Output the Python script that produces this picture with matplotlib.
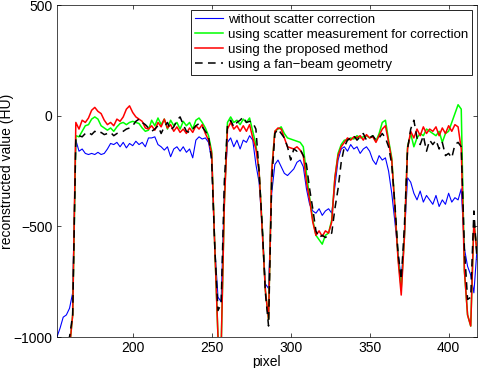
import numpy as np
import matplotlib
matplotlib.use("Agg")
import matplotlib.pyplot as plt

plt.rcParams['font.family'] = ['Liberation Sans', 'DejaVu Sans']
plt.rcParams['font.size'] = 10

# detector pixel positions (every 2nd pixel)
pixel = np.arange(152, 419, 2)

# reconstructed values in HU
no_corr = [
    -1000, -960, -910, -900, -870, -800, -110, -160, -150, -170,
    -175, -170, -175, -165, -175, -170, -150, -125, -130, -120,
    -140, -120, -145, -125, -135, -115, -130, -120, -140, -100,
    -100, -95, -130, -140, -155, -140, -185, -150, -140, -160,
    -140, -165, -150, -190, -110, -95, -105, -100, -120, -200,
    -600, -820, -840, -350, -120, -100, -140, -110, -150, -110,
    -120, -90, -110, -220, -300, -500, -760, -780, -350, -220,
    -200, -230, -260, -270, -255, -240, -210, -200, -230, -330,
    -400, -430, -440, -420, -450, -430, -420, -440, -320, -200,
    -150, -140, -160, -130, -150, -140, -170, -150, -140, -160,
    -200, -220, -180, -200, -190, -250, -350, -480, -620, -740,
    -550, -280, -300, -350, -380, -340, -390, -360, -380, -400,
    -360, -410, -380, -400, -350, -390, -370, -380, -330, -600,
    -680, -720, -800, -600,
]
scatter_meas = [
    -1050, -1050, -1010, -1050, -1050, -900, -90, -95, -70, -45,
    -40, -15, -5, -15, -45, -55, -65, -55, -70, -50,
    -35, -30, -40, -30, -25, -30, -35, -55, -70, -65,
    -20, -45, -10, -40, -15, -60, -20, -45, -30, -60,
    -25, -45, -30, -60, -20, -10, -30, -55, -90, -160,
    -600, -1000, -1050, -400, -30, -5, -30, -20, -40, -15,
    -30, -10, -70, -130, -250, -500, -790, -920, -250, -70,
    -60, -50, -80, -100, -105, -110, -115, -120, -140, -260,
    -370, -470, -540, -560, -580, -540, -530, -470, -280, -170,
    -130, -110, -110, -100, -105, -90, -100, -95, -90, -100,
    -90, -115, -80, -30, -20, -110, -190, -410, -640, -780,
    -550, -140, -80, -140, -100, -80, -90, -60, -70, -80,
    -90, -70, -120, -80, -70, -30, 10, 50, 30, -700,
    -900, -950, -480, -620,
]
proposed = [
    -1050, -1050, -1050, -1050, -1050, -900, -30, -60, -20, -30,
    -10, 25, 38, 20, 10, -20, -40, -30, -45, -15,
    -25, -5, 30, 45, 15, -5, -15, -25, -55, -60,
    -45, -65, -30, -50, -15, -55, -40, -70, -50, -75,
    -60, -80, -55, -75, -45, -60, -40, -80, -110, -170,
    -600, -1000, -1050, -400, -60, -30, -60, -45, -70, -45,
    -70, -40, -100, -150, -250, -520, -790, -920, -250, -70,
    -55, -60, -100, -140, -145, -150, -140, -155, -180, -300,
    -380, -480, -540, -520, -545, -520, -530, -480, -280, -180,
    -140, -120, -100, -110, -95, -100, -90, -110, -85, -100,
    -95, -120, -90, -60, -45, -120, -200, -420, -650, -810,
    -550, -150, -70, -100, -60, -90, -50, -80, -60, -70,
    -50, -90, -55, -80, -45, -70, -40, -50, -150, -700,
    -900, -950, -480, -620,
]
fan_beam = [
    -1100, -1100, -1100, -1010, -1000, -900, -100, -90, -95, -80,
    -75, -85, -70, -80, -75, -85, -80, -75, -90, -80,
    -75, -70, -60, -55, -45, -25, -15, -30, -40, -55,
    -70, -60, -45, -80, -50, -30, -65, -50, -20, -5,
    -40, -70, -75, -60, -45, -35, -50, -70, -90, -200,
    -600, -880, -850, -300, -40, -20, -50, -30, -20, -5,
    -30, -25, -30, -60, -250, -500, -800, -950, -300, -80,
    -60, -80, -100, -140, -200, -150, -160, -150, -180, -220,
    -330, -420, -520, -550, -540, -550, -540, -530, -420, -330,
    -210, -140, -110, -100, -90, -110, -95, -80, -110, -100,
    -90, -110, -100, -80, -100, -140, -220, -400, -620, -740,
    -500, -150, -60, -20, -100, -130, -90, -160, -110, -130,
    -110, -150, -120, -180, -170, -190, -130, -120, -140, -600,
    -830, -820, -430, -650,
]

labels = [
    'without scatter correction',
    'using scatter measurement for correction',
    'using the proposed method',
    'using a fan\u2212beam geometry',
]

fig = plt.figure(figsize=(4.78, 3.68), dpi=100)
ax = fig.add_axes([0.119, 0.084, 0.879, 0.902])

ax.plot(pixel, no_corr, color=(0, 0, 1), lw=0.8, label=labels[0])
ax.plot(pixel, scatter_meas, color=(0, 1, 0), lw=1.1, label=labels[1])
ax.plot(pixel, proposed, color=(1, 0, 0), lw=1.1, label=labels[2])
ax.plot(pixel, fan_beam, color='k', lw=1.1, ls=(0, (5, 3.5)), label=labels[3])

ax.set_xlim(152, 418)
ax.set_ylim(-1000, 500)
ax.set_xticks([200, 250, 300, 350, 400])
ax.set_yticks([-1000, -500, 0, 500])
ax.tick_params(direction='in', top=True, right=True, length=3, width=0.5, pad=3)
for s in ax.spines.values():
    s.set_linewidth(0.5)

ax.set_xlabel('pixel', labelpad=0)
ax.set_ylabel('reconstructed value (HU)', labelpad=0)

leg = ax.legend(loc='upper right', fancybox=False, framealpha=1,
                edgecolor='k', handlelength=2.1, handletextpad=0.4,
                labelspacing=0.2, borderpad=0.3, borderaxespad=0.35,
                fontsize=9.5)
leg.get_frame().set_linewidth(0.6)

fig.savefig('out.png', dpi=100)
